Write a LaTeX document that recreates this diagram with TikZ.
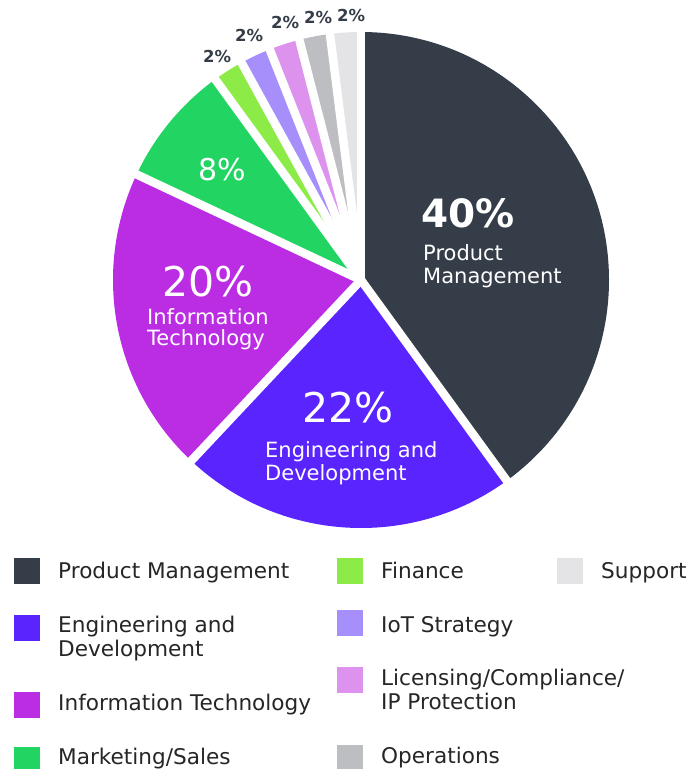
\documentclass[tikz,border=0pt]{standalone}
\usepackage{fontspec}
\setmainfont{DejaVu Sans}
\definecolor{pmcol}{HTML}{343D48}
\definecolor{engcol}{HTML}{5A24FF}
\definecolor{itcol}{HTML}{BB2DE3}
\definecolor{mktcol}{HTML}{22D563}
\definecolor{fincol}{HTML}{8CEB46}
\definecolor{iotcol}{HTML}{A78FFB}
\definecolor{liccol}{HTML}{DD93EE}
\definecolor{opscol}{HTML}{BDBEC2}
\definecolor{supcol}{HTML}{E4E4E6}
\definecolor{keycol}{HTML}{262626}

\begin{document}
\begin{tikzpicture}[x=1pt,y=-1pt,
		gap/.style={draw=white,line width=8.5pt},
		big/.style={text=white,inner sep=0pt,anchor=base west,font=\fontsize{41}{41}\selectfont},
		sub/.style={text=white,inner sep=0pt,anchor=base west,font=\fontsize{21}{23}\selectfont},
		small/.style={text=pmcol,inner sep=0pt,anchor=base west,font=\bfseries\fontsize{16.5}{16.5}\selectfont},
		key/.style={fill=#1,minimum size=26pt,inner sep=0pt},
		keytext/.style={text=keycol,inner sep=0pt,anchor=base west,align=left,font=\fontsize{21.6}{23.5}\selectfont}]
		\fill[white] (0,0) rectangle (700,769);
		\useasboundingbox (0,0) rectangle (700,769);
		\coordinate (c) at (361,280);
		% slices, clockwise from the top
		\foreach \a/\b/\col in {0/144/pmcol,144/223.2/engcol,223.2/295.2/itcol,295.2/324/mktcol,
			324/331.2/fincol,331.2/338.4/iotcol,338.4/345.6/liccol,345.6/352.8/opscol,352.8/360/supcol}{
			\fill[\col] (c) -- ++(\a-90:248) arc[start angle=\a-90,end angle=\b-90,radius=248] -- cycle;
		}
		\foreach \a in {0,144,223.2,295.2,324,331.2,338.4,345.6,352.8}{
			\draw[gap] (c) -- ++(\a-90:258);
		}
		
		\node[big,font=\bfseries\fontsize{39}{39}\selectfont] (pct40) at (421,227) {40\%};
		\node[sub] (pmA) at (423,260) {Product};
		\node[sub] (pmB) at (423,283) {Management};
		\node[big] (pct22) at (302,422) {22\%};
		\node[sub] (engA) at (265,457) {Engineering and};
		\node[sub] (engB) at (265,480) {Development};
		\node[big] (pct20) at (162,296) {20\%};
		\node[sub] (itA) at (147,324) {Information};
		\node[sub] (itB) at (147,345) {Technology};
		\node[big,font=\fontsize{30}{30}\selectfont] (pct8) at (198,180) {8\%};
		\foreach \x/\y [count=\i] in {203/62,235/41,271/28,304/23,337/21}{
			\node[small] (two\i) at (\x,\y) {2\%};
		}
		
		% legend (two-line texts sit on their last baseline)
		\foreach \n/\x/\y/\b/\col/\txt in {pm/27/571/578/pmcol/{Product Management},
			eng/27/628/656/engcol/{Engineering and\\Development},
			it/27/705/710/itcol/{Information Technology},
			mkt/27/760/764/mktcol/{Marketing/Sales},
			fin/350/571/578/fincol/{Finance},
			iot/350/623/632/iotcol/{IoT Strategy},
			lic/350/680/709/liccol/{Licensing/Compliance/\\IP Protection},
			ops/350/758/763/opscol/{Operations},
			sup/570/571/578/supcol/{Support}}{
			\node[key=\col] (key\n) at (\x,\y) {};
			\node[keytext] (txt\n) at (\x+31,\b) {\txt};
		}
\end{tikzpicture}
\end{document}
